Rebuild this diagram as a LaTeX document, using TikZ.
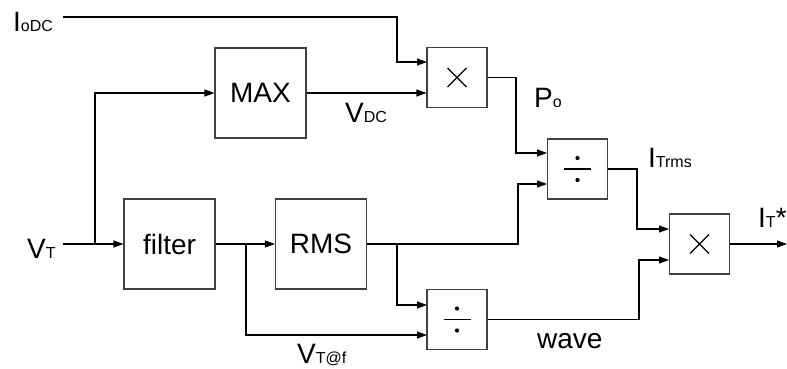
\documentclass[tikz,border=0pt]{standalone}
\usepackage{fontspec}
\setmainfont{Liberation Sans}
\usetikzlibrary{arrows.meta}
\newcommand{\mylbl}[2]{{\fontsize{28}{30}\selectfont #1}{\fontsize{16}{18}\selectfont #2}}
\begin{document}
\begin{tikzpicture}[x=1pt,y=-1pt,
  blk/.style={draw=black!75, line width=1.1pt, inner sep=0pt, font=\fontsize{28}{30}\selectfont},
  bigblk/.style={blk, minimum width=91pt, minimum height=90pt},
  opblk/.style={blk, minimum width=60pt, minimum height=60pt},
  wire/.style={line width=1.1pt, -{Triangle[length=10pt,width=7pt]}},
  sym/.style={line width=1.3pt},
  lab/.style={inner sep=0pt, anchor=base west}]
\useasboundingbox (0,0) rectangle (787,369);
% blocks
\node[bigblk] (max) at (260.5,93) {MAX};
\node[bigblk] (filter) at (169.5,244) {filter};
\node[bigblk] (rms) at (321,244) {RMS};
\node[opblk] (mul1) at (457,77.5) {};
\node[opblk] (div1) at (577.5,169) {};
\node[opblk] (mul2) at (699.5,244) {};
\node[opblk] (div2) at (457,319.5) {};
% symbols
\draw[sym] (mul1.center) ++(-9.5,-9.5) -- ++(19,19) ++(0,-19) -- ++(-19,19);
\draw[sym] (mul2.center) ++(-9.5,-9.5) -- ++(19,19) ++(0,-19) -- ++(-19,19);
\draw[sym] (div1.center) ++(-13.5,0) -- ++(27,0);
\fill (div1.center) ++(0,-11) circle (2.1pt) ++(0,22) circle (2.1pt);
\draw[sym] (div2.center) ++(-13.5,0) -- ++(27,0);
\fill (div2.center) ++(0,-11) circle (2.1pt) ++(0,22) circle (2.1pt);
% labels
\node[lab] (liodc) at (13,32) {\mylbl{I}{oDC}};
\node[lab] (lvt) at (27,258) {\mylbl{V}{T}};
\node[lab] (lvdc) at (345,122) {\mylbl{V}{DC}};
\node[lab] (lpo) at (534,107) {\mylbl{P}{o}};
\node[lab] (litrms) at (648,167) {\mylbl{I}{Trms}};
\node[lab] (lit) at (758,227) {\mylbl{I}{T}{\fontsize{28}{30}\selectfont *}};
\node[lab] (lwave) at (537,348) {\fontsize{28}{30}\selectfont wave};
\node[lab] (lvtf) at (297,363) {\mylbl{V}{T@f}};
% coordinates
\coordinate (iodcS) at (63,17);
\coordinate (vtS) at (63,244);
\coordinate (j1) at (95,244);
\coordinate (j2) at (246,244);
\coordinate (j3) at (397,244);
\coordinate (m1a) at (427,62);
\coordinate (d1a) at (547,153);
\coordinate (d1b) at (547,184);
\coordinate (m2a) at (669,229);
\coordinate (m2b) at (669,260);
\coordinate (d2a) at (427,305);
\coordinate (d2b) at (427,335);
\coordinate (out) at (787,244);
% wires
\draw[wire] (iodcS) -- (397,17) -- (397,62) -- (m1a);
\draw[wire] (vtS) -- (filter.west);
\draw[wire] (j1) |- (max.west);
\draw[wire] (max.east) -- (mul1.west |- max.east);
\draw[wire] (filter.east) -- (rms.west);
\draw[wire] (j2) |- (d2b);
\draw[wire] (rms.east) -- (518,244) -- (518,184) -- (d1b);
\draw[wire] (j3) |- (d2a);
\draw[wire] (mul1.east) -- (516,77.5) -- (516,153) -- (d1a);
\draw[wire] (div1.east) -- (637,169) -- (637,229) -- (m2a);
\draw[wire] (div2.east) -- (639,319.5) -- (639,260) -- (m2b);
\draw[wire] (mul2.east) -- (out);
\end{tikzpicture}
\end{document}
